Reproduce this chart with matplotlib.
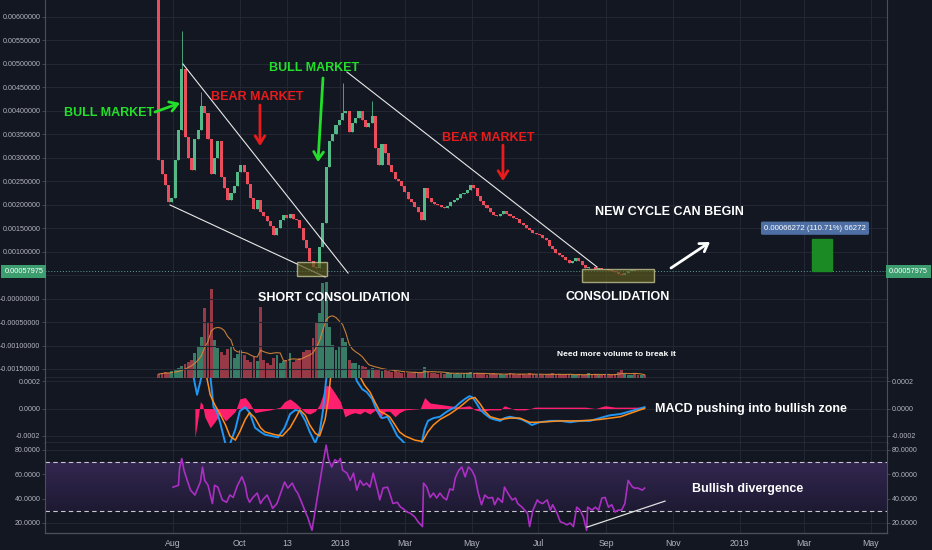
import numpy as np
import pandas as pd
import matplotlib
matplotlib.use('Agg')
import matplotlib.pyplot as plt
import matplotlib.transforms as mtransforms
from matplotlib.patches import Rectangle
from matplotlib.colors import to_rgb

plt.rcParams['font.family'] = ['Liberation Sans', 'DejaVu Sans']

# ---------------- datos (x = días desde 2017-08-01, velas de 3 días) ----------------
first_day = -13
step = 3
first_open = 0.0070
closes = [
    0.00295, 0.00265, 0.00241, 0.00205, 0.00215, 0.00295, 0.00360, 0.00490, 0.00345, 0.00300,
    0.00275, 0.00340, 0.00360, 0.00410, 0.00395, 0.00340, 0.00265, 0.00300, 0.00335, 0.00260,
    0.00235, 0.00210, 0.00225, 0.00240, 0.00270, 0.00285, 0.00270, 0.00245, 0.00215, 0.00190,
    0.00210, 0.00185, 0.00175, 0.00165, 0.00155, 0.00135, 0.00150, 0.00168, 0.00178, 0.00172,
    0.00180, 0.00170, 0.00168, 0.00150, 0.00125, 0.00108, 0.00080, 0.00068, 0.00066, 0.00110,
    0.00160, 0.00280, 0.00335, 0.00350, 0.00370, 0.00380, 0.00395, 0.00400, 0.00355, 0.00375,
    0.00385, 0.00400, 0.00380, 0.00365, 0.00375, 0.00390, 0.00320, 0.00285, 0.00330, 0.00310,
    0.00285, 0.00270, 0.00255, 0.00250, 0.00240, 0.00228, 0.00212, 0.00205, 0.00195, 0.00185,
    0.00168, 0.00235, 0.00215, 0.00205, 0.00202, 0.00200, 0.00196, 0.00194, 0.00198, 0.00205,
    0.00210, 0.00215, 0.00222, 0.00225, 0.00232, 0.00242, 0.00235, 0.00218, 0.00208, 0.00200,
    0.00194, 0.00185, 0.00178, 0.00176, 0.00180, 0.00186, 0.00180, 0.00176, 0.00172, 0.00170,
    0.00162, 0.00156, 0.00150, 0.00146, 0.00140, 0.00137, 0.00135, 0.00130, 0.00125, 0.00112,
    0.00105, 0.00098, 0.00093, 0.00088, 0.00082, 0.00076, 0.00080, 0.00086, 0.00080, 0.00072,
    0.00066, 0.00068, 0.00067, 0.00064, 0.00066, 0.00064, 0.00063, 0.00061, 0.00059, 0.00056,
    0.00052, 0.00050, 0.00055, 0.00059, 0.00060, 0.00059, 0.00058, 0.00059, 0.00057975,
]
wick_days = [8, 11, 26, 155, 182]
wick_highs = [0.0057, 0.0047, 0.0044, 0.0046, 0.0042]

volumes = [
    4, 5, 6, 5, 7, 9, 10, 12, 14, 16, 18, 25, 31, 41, 70, 55, 89, 38, 30, 26,
    23, 29, 31, 20, 24, 28, 23, 18, 16, 21, 17, 71, 18, 15, 13, 20, 23, 15, 17, 18,
    25, 16, 18, 20, 26, 28, 28, 40, 55, 65, 95, 96, 51, 33, 28, 31, 40, 36, 18, 15,
    15, 13, 12, 11, 9, 10, 8, 9, 7, 8, 7, 6, 7, 6, 5, 6, 5, 5, 6, 5,
    6, 11, 6, 5, 5, 4, 5, 4, 6, 5, 4, 5, 4, 4, 5, 6, 4, 5, 4, 4,
    3, 4, 5, 4, 4, 3, 4, 5, 4, 3, 4, 4, 3, 5, 4, 3, 4, 3, 3, 4,
    5, 3, 4, 3, 3, 4, 3, 3, 4, 3, 3, 5, 3, 4, 3, 3, 4, 3, 3, 4,
    6, 8, 4, 3, 3, 4, 3, 3, 3,
]

macd_days = [17, 22, 26, 29, 34, 37, 40, 43, 48, 52, 57, 61, 66, 70, 75, 80, 84, 90, 96, 102,
             107, 112, 116, 121, 125, 130, 134, 137, 140, 144, 153, 162, 168, 173, 177, 182, 186, 191, 196, 200,
             205, 209, 217, 226, 230, 233, 238, 244, 249, 253, 258, 262, 267, 271, 274, 278, 281, 285, 290, 294,
             299, 303, 308, 314, 319, 324, 328, 335, 345, 354, 363, 372, 381, 390, 399, 409, 418, 427, 431]
macd_vals = [0.00030, 0.00010, 0.00023, 0.00035, 0.00025, 0.00001, -0.00002, -0.00010, -0.00026, -0.00026,
             -0.00015, -0.00002, 0.00001, -0.00003, -0.00014, -0.00017, -0.00019, -0.00020, -0.00021, -0.00014,
             -0.00004, -0.00001, -0.00002, -0.00009, -0.00017, -0.00025, -0.00017, -0.00002, 0.00021, 0.00040,
             0.00060, 0.00040, 0.00020, 0.00014, 0.00012, 0.00007, -0.00001, -0.00007, -0.00006, -0.00012,
             -0.00020, -0.00023, -0.00030, -0.00030, -0.00015, -0.00009, -0.00007, -0.00006, -0.00003, -0.00001,
             0.00001, 0.00004, 0.00007, 0.00009, 0.00008, 0.00003, -0.00001, -0.00004, -0.00007, -0.00008,
             -0.00009, -0.00007, -0.00006, -0.00007, -0.00008, -0.00010, -0.00012, -0.00010, -0.00009, -0.00009,
             -0.00010, -0.00009, -0.00009, -0.00007, -0.00005, -0.00004, -0.00002, 0.0, 0.00001]

signal_days = [25, 29, 34, 38, 43, 48, 52, 57, 61, 66, 70, 75, 80, 84, 93, 100, 107, 112, 116, 121,
               125, 130, 134, 139, 142, 145, 157, 171, 175, 180, 185, 189, 194, 198, 203, 207, 212, 221, 228, 233,
               238, 244, 253, 262, 271, 276, 281, 285, 290, 299, 308, 317, 326, 335, 354, 372, 390, 409, 427, 431]
signal_vals = [0.00040, 0.00030, 0.00010, 0.00003, -0.00004, -0.00012, -0.00020, -0.00023, -0.00017, -0.00008,
               -0.00003, -0.00007, -0.00014, -0.00017, -0.00019, -0.00020, -0.00014, -0.00007, -0.00001, -0.00005,
               -0.00012, -0.00018, -0.00020, -0.00008, 0.00007, 0.00030, 0.00050, 0.00023, 0.00017, 0.00012,
               0.00004, -0.00002, -0.00004, -0.00006, -0.00012, -0.00017, -0.00020, -0.00023, -0.00024, -0.00017,
               -0.00012, -0.00008, -0.00004, 0.00001, 0.00007, 0.00008, 0.00003, -0.00002, -0.00006, -0.00008,
               -0.00007, -0.00007, -0.00010, -0.00010, -0.00009, -0.00009, -0.00008, -0.00006, -0.00001, 0.0]

hist_days = [20, 22, 25, 27, 29, 34, 38, 43, 48, 52, 57, 61, 66, 70, 75, 81, 89, 98, 102, 107,
             112, 116, 121, 125, 130, 134, 137, 140, 144, 149, 153, 155, 157, 162, 166, 171, 175, 180, 185, 189,
             194, 198, 203, 207, 212, 226, 230, 235, 244, 253, 262, 271, 276, 281, 290, 299, 303, 313, 322, 331,
             340, 349, 358, 367, 377, 386, 395, 404, 413, 422, 431]
hist_vals = [-0.00021, -0.00012, 0.00005, 0.00003, -0.00006, -0.00014, -0.00010, -0.00004, -0.00009, -0.00006,
             -0.00002, 0.00007, 0.00008, 0.00004, -0.00003, -0.00002, -0.00001, 0.00001, 0.00005, 0.00007,
             0.00004, 0.00001, -0.00003, -0.00004, -0.00002, 0.00003, 0.00010, 0.00017, 0.00016, 0.00010,
             0.00005, 0.0, -0.00006, -0.00004, -0.00003, -0.00004, -0.00002, -0.00004, -0.00001, -0.00007,
             -0.00002, -0.00002, -0.00006, -0.00003, -0.00001, 0.0, 0.00008, 0.00004, 0.00003, 0.00002,
             0.00001, 0.00002, -0.00001, -0.00002, -0.00001, -0.00001, 0.00002, -0.00001, -0.00001, 0.00001,
             0.00001, 0.00001, 0.00001, 0.00001, 0.00001, 0.0, 0.00002, 0.00001, 0.00001, 0.00001, 0.00001]

rsi_days = [0, 5, 6, 8, 10, 13, 16, 20, 25, 27, 29, 32, 36, 38, 41, 45, 49, 52, 55, 59,
            63, 66, 68, 70, 73, 77, 80, 82, 86, 89, 91, 95, 100, 102, 105, 109, 112, 114, 118, 121,
            123, 127, 130, 133, 136, 138, 140, 142, 145, 148, 151, 153, 155, 159, 162, 165, 168, 171, 174, 177,
            180, 183, 187, 189, 192, 196, 198, 201, 205, 208, 210, 214, 217, 221, 224, 228, 229, 232, 235, 238,
            241, 244, 247, 250, 253, 256, 258, 261, 264, 267, 270, 273, 276, 279, 282, 285, 288, 292, 294, 297,
            301, 303, 306, 310, 313, 315, 319, 324, 326, 329, 333, 335, 338, 342, 345, 347, 351, 354, 357, 360,
            363, 366, 369, 372, 375, 378, 379, 383, 386, 389, 392, 395, 398, 401, 404, 407, 410, 413, 416, 420,
            422, 425, 429, 431]
rsi_vals = [49.5, 51, 65, 73, 63.5, 55, 47, 43, 53.7, 66, 55, 51, 36, 51, 49.5, 39, 37, 43, 41, 51,
            58, 51, 41, 37, 41, 44.6, 36, 39, 43, 37, 32, 36, 48.7, 53.7, 48.7, 52.8, 47, 44.6, 36, 29,
            25, 14, 30.6, 47, 63.5, 74, 84, 73, 66, 72, 70, 73, 63.5, 61, 55, 61, 47, 55, 51, 52.8,
            49.5, 61, 47, 39, 48.7, 49.5, 44.6, 36, 37, 33, 32, 29, 28, 25, 21, 17, 52.8, 49.5, 41, 44.6,
            40.5, 44.6, 41, 39, 48, 47, 57, 63, 66, 58, 66, 63.5, 58, 44.6, 35, 43, 40.5, 41, 35, 40.5,
            37, 49.5, 44.6, 39, 40.5, 36, 33, 28, 17, 30.6, 39, 37, 36, 39, 30.6, 35, 28, 21, 20, 18.5,
            20, 17, 33, 30.6, 25, 14, 33, 30.6, 33, 30.6, 40.5, 41, 33, 35, 29, 30.6, 30.6, 36, 55, 49.5,
            48.7, 48.7, 47, 48.7]

tick_days = [0, 61, 104, 153, 212, 273, 334, 396, 457, 518, 577, 638]
tick_labels = ['Aug', 'Oct', '13', '2018', 'Mar', 'May', 'Jul', 'Sep', 'Nov', '2019', 'Mar', 'May']
price_ticks = [0.006, 0.0055, 0.005, 0.0045, 0.004, 0.0035, 0.003, 0.0025, 0.002, 0.0015,
               0.001, 0.0005, 0.0, -0.0005, -0.001, -0.0015]
# la etiqueta de 0.0005 queda tapada por la del precio actual
price_labels = ['0.00600000', '0.00550000', '0.00500000', '0.00450000', '0.00400000', '0.00350000',
                '0.00300000', '0.00250000', '0.00200000', '0.00150000', '0.00100000', '',
                '-0.00000000', '-0.00050000', '-0.00100000', '-0.00150000']
macd_ticks = [0.0002, 0.0, -0.0002]
macd_labels = ['0.0002', '0.0000', '-0.0002']
rsi_ticks = [80, 60, 40, 20]
rsi_labels = ['80.0000', '60.0000', '40.0000', '20.0000']
last_price = 0.00057975

# líneas de tendencia dibujadas (día, precio)
trend_lines = [([9.1, 160], [0.004998, 0.000545]),
               ([-2.7, 139], [0.001994, 0.00046]),
               ([159, 387.6], [0.004828, 0.000673])]

# ---------------- estilo ----------------
bg = '#131722'
grid_c = '#232733'
text_c = '#b2b5be'
axis_c = '#4a4e59'
sep_c = '#6a6d78'
up_c = '#53b987'
down_c = '#eb4d5c'

fig = plt.figure(figsize=(9.32, 5.5), dpi=100)
fig.patch.set_facecolor(bg)
L, W = 45 / 932, 842 / 932
ax = fig.add_axes([L, 172 / 550, W, 378 / 550])
axm = fig.add_axes([L, 107 / 550, W, 65 / 550], sharex=ax)
axr = fig.add_axes([L, 17 / 550, W, 90 / 550], sharex=ax)

for a in (ax, axm, axr):
    a.set_facecolor(bg)
    a.grid(True, color=grid_c, lw=0.8, zorder=0)
    a.set_axisbelow(True)
    a.yaxis.set_ticks_position('both')
    a.tick_params(axis='y', labelleft=True, labelright=True, labelsize=5.1,
                  colors=text_c, length=2, width=0.6, pad=1.2)
    a.tick_params(axis='y', color=axis_c)
    a.tick_params(axis='x', length=0, labelsize=6.3, colors=text_c, pad=4)
    for s in ('left', 'right'):
        a.spines[s].set_color(axis_c)
        a.spines[s].set_linewidth(0.8)
    a.spines['top'].set_visible(False)
    a.spines['bottom'].set_color(sep_c)
    a.spines['bottom'].set_linewidth(1.0)

ax.set_xticks(tick_days)
axr.set_xticklabels(tick_labels)
ax.tick_params(axis='x', labelbottom=False)
axm.tick_params(axis='x', labelbottom=False)
ax.set_xlim(-117, 652.6)

# ---------------- precio ----------------
ax.set_ylim(-0.001692, 0.006362)
ax.set_yticks(price_ticks)
ax.set_yticklabels(price_labels)

days = first_day + step * np.arange(len(closes))
closes_a = np.array(closes)
opens_a = np.concatenate([[first_open], closes_a[:-1]])
is_up = closes_a >= opens_a
cols = np.where(is_up, up_c, down_c)

# volumen (eje gemelo por detrás de las velas)
axv = ax.twinx()
axv.set_zorder(ax.get_zorder() - 1)
ax.patch.set_visible(False)
axv.patch.set_facecolor(bg)
axv.set_ylim(0, 378)
axv.set_yticks([])
for s in axv.spines.values():
    s.set_visible(False)
vol_cols = np.where(is_up, '#3f8f73', '#b0404f')
axv.bar(days, volumes, width=2.6, color=vol_cols, alpha=0.85, lw=0)
vol_ma = pd.Series(volumes).rolling(7, min_periods=1).mean()
axv.plot(days, vol_ma, color='#d9893a', lw=0.8, alpha=0.9)

lows = np.minimum(opens_a, closes_a)
highs = np.maximum(opens_a, closes_a)
for d, h in zip(wick_days, wick_highs):
    i = int(np.argmin(np.abs(days - d)))
    highs[i] = max(highs[i], h)
ax.vlines(days, lows, highs, colors=cols, lw=0.6, zorder=3)
ax.bar(days, np.abs(closes_a - opens_a), bottom=lows, width=2.8, color=cols, lw=0, zorder=4)

# línea de precio actual
ax.axhline(last_price, color='#5a9e98', lw=0.7, ls=(0, (1, 2)), zorder=2)
ytrans = mtransforms.blended_transform_factory(ax.transAxes, ax.transData)
for xpos, ha in ((-0.002, 'right'), (1.002, 'left')):
    ax.text(xpos, last_price, '0.00057975', transform=ytrans, ha=ha, va='center',
            fontsize=5.3, color='white', zorder=10, clip_on=False,
            bbox=dict(boxstyle='square,pad=0.4', facecolor='#3c9d6f', edgecolor='none'))

for xs, ys in trend_lines:
    ax.plot(xs, ys, color='#e8e8e8', lw=0.8, zorder=5)

# cajas de consolidación y objetivo
ax.add_patch(Rectangle((113, 0.00049), 28, 0.00028, facecolor='#5a5a1e', alpha=0.7,
                       edgecolor='#d8d8a0', lw=1.0, zorder=6))
ax.add_patch(Rectangle((374, 0.00036), 66, 0.00028, facecolor='#5a5a1e', alpha=0.7,
                       edgecolor='#d8d8a0', lw=1.0, zorder=6))
ax.add_patch(Rectangle((584, 0.00058), 18, 0.00068, facecolor='#1b8a24', edgecolor='#1b8a24',
                       zorder=6))
ax.text(586.8, 0.0015, '0.00066272 (110.71%) 66272', ha='center', va='center', fontsize=5.6,
        color='white', zorder=10,
        bbox=dict(boxstyle='round,pad=0.4,rounding_size=0.2', facecolor='#4e6fa3', edgecolor='none'))

green = '#22e02a'
red = '#e81c1c'
ann = dict(fontsize=9, fontweight='bold', ha='center', va='center', zorder=10)
ax.text(-58.5, 0.003953, 'BULL MARKET', color=green, **ann)
ax.text(76.8, 0.004295, 'BEAR MARKET', color=red, **ann)
ax.text(128.9, 0.004913, 'BULL MARKET', color=green, **ann)
ax.text(288, 0.00342, 'BEAR MARKET', color=red, **ann)
ax.text(147.2, 0.0000128, 'SHORT CONSOLIDATION', color='white', **ann)
ax.text(406.8, 0.000034, 'CONSOLIDATION', color='white', **ann)
ax.text(453.4, 0.001845, 'NEW CYCLE CAN BEGIN', color='white', **ann)
ax.text(405, -0.0012, 'Need more volume to break it', color='white', fontsize=6,
        fontweight='bold', ha='center', va='center', zorder=10)

arrows = [((-16.5, 0.003975), (6.4, 0.004167), green),
          ((79.5, 0.004125), (79.5, 0.003251), red),
          ((137.1, 0.0047), (132.5, 0.00291), green),
          ((301.6, 0.00327), (301.6, 0.002506), red),
          ((455.2, 0.000652), (490.9, 0.001206), 'white')]
for tail, head, c in arrows:
    ax.annotate('', xy=head, xytext=tail, zorder=10,
                arrowprops=dict(arrowstyle='->,head_length=0.55,head_width=0.35',
                                color=c, lw=2, shrinkA=0, shrinkB=0))

# ---------------- MACD ----------------
axm.set_ylim(-0.000251, 0.000222)
axm.set_yticks(macd_ticks)
axm.set_yticklabels(macd_labels)
axm.fill_between(hist_days, 0, hist_vals, color='#ff1f6f', lw=0, zorder=2)
axm.plot(macd_days, macd_vals, color='#2196f3', lw=1.4, zorder=3)
axm.plot(signal_days, signal_vals, color='#ff8c1a', lw=1.1, zorder=4)
axm.text(441, 0.0, 'MACD pushing into bullish zone', color='white', fontsize=9,
         fontweight='bold', ha='left', va='center', zorder=10)

# ---------------- RSI ----------------
axr.set_ylim(11.78, 85.75)
axr.set_yticks(rsi_ticks)
axr.set_yticklabels(rsi_labels)
axr.spines['bottom'].set_color(axis_c)
top_rgb = np.array(to_rgb('#32264f'))
bot_rgb = np.array(to_rgb('#1e1a33'))
tvals = np.linspace(0, 1, 64)[:, None]
grad = top_rgb[None, :] * (1 - tvals) + bot_rgb[None, :] * tvals
axr.imshow(grad[:, None, :], extent=(-117, 652.6, 30, 70), aspect='auto', zorder=1)
axr.axhline(70, color='#c8c8d0', lw=0.8, ls=(0, (4, 3)), zorder=2)
axr.axhline(30, color='#c8c8d0', lw=0.8, ls=(0, (4, 3)), zorder=2)
axr.plot(rsi_days, rsi_vals, color='#ab2fc2', lw=1.2, zorder=3)
axr.plot([378.4, 449.7], [16.6, 38], color='#e0e0e0', lw=0.9, zorder=4)
axr.text(525.6, 47.9, 'Bullish divergence', color='white', fontsize=9,
         fontweight='bold', ha='center', va='center', zorder=10)
axr.set_xlim(-117, 652.6)
axr.set_ylim(11.78, 85.75)

fig.savefig('out.png', dpi=100, facecolor=bg)
